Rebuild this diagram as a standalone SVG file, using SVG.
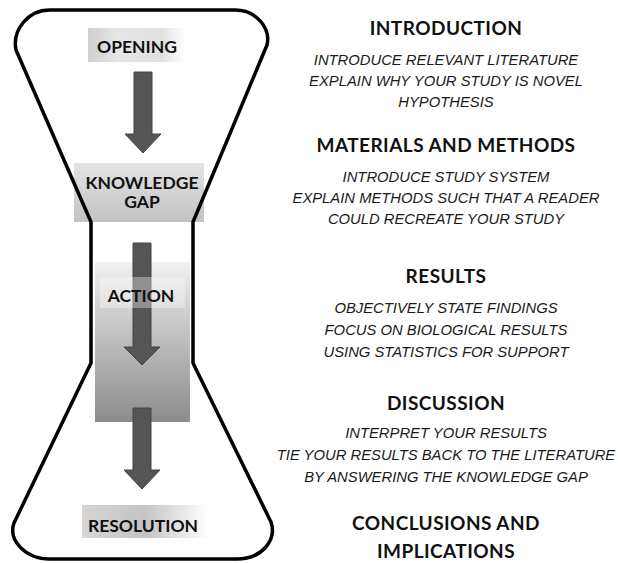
<svg xmlns="http://www.w3.org/2000/svg" width="618" height="563" viewBox="0 0 618 563">
<style>
.lbl{font-family:Lato,"Liberation Sans",sans-serif;font-weight:bold;font-size:17.5px;fill:#111;text-anchor:middle}
.hd{font-family:Lato,"Liberation Sans",sans-serif;font-weight:bold;font-size:19px;letter-spacing:0.45px;fill:#111;text-anchor:middle}
.it{font-family:"Liberation Sans",Arial,sans-serif;font-style:italic;font-size:14.8px;fill:#1a1a1a;text-anchor:middle}
.arrow{fill:#555;stroke:#444;stroke-width:1}
.flask{fill:none;stroke:#000;stroke-width:3.5;stroke-linejoin:round}
</style>
<defs>
<linearGradient id="gH" x1="0" y1="0" x2="1" y2="0">
<stop offset="0" stop-color="#cfcfcf"/>
<stop offset="0.3" stop-color="#e6e6e6"/>
<stop offset="0.75" stop-color="#e0e0e0"/>
<stop offset="1" stop-color="#ffffff"/>
</linearGradient>
<linearGradient id="gV" x1="0" y1="0" x2="0" y2="1">
<stop offset="0" stop-color="#e4e4e4"/>
<stop offset="1" stop-color="#c2c2c2"/>
</linearGradient>
<linearGradient id="gAct" x1="0" y1="0" x2="0" y2="1">
<stop offset="0" stop-color="#f2f2f2"/>
<stop offset="0.3" stop-color="#d0d0d0"/>
<stop offset="1" stop-color="#8c8c8c"/>
</linearGradient>
<linearGradient id="gRes" x1="0" y1="0" x2="1" y2="0">
<stop offset="0" stop-color="#d6d6d6"/>
<stop offset="0.5" stop-color="#c4c4c4"/>
<stop offset="1" stop-color="#ffffff"/>
</linearGradient>
</defs>
<rect width="618" height="563" fill="#fff"/>

<g id="opening">
<rect x="88" y="28" width="97" height="34" fill="url(#gH)"/>
<text class="lbl" x="137" y="53">OPENING</text>
</g>

<g id="knowledge-gap">
<rect x="74" y="163" width="130" height="59" fill="url(#gV)"/>
<text class="lbl" x="142" y="189">KNOWLEDGE</text>
<text class="lbl" x="142" y="208">GAP</text>
</g>

<g id="action">
<rect x="95" y="262" width="95" height="160" fill="url(#gAct)"/>
</g>

<g id="connectors">
<polygon class="arrow" points="134,72 152,72 152,134 161,134 143,153 125,134 134,134"/>
<polygon class="arrow" points="133,243 151,243 151,347 160,347 142,365 124,347 133,347"/>
<polygon class="arrow" points="133,408 151,408 151,470 160,470 142,489 124,470 133,470"/>
</g>

<g id="action-label">
<rect x="100" y="277" width="85" height="31" fill="#fff" fill-opacity="0.35"/>
<text class="lbl" x="141" y="302">ACTION</text>
</g>

<g id="resolution">
<rect x="82" y="505" width="126" height="33" fill="url(#gRes)"/>
<text class="lbl" x="143" y="532">RESOLUTION</text>
</g>

<path class="flask" d="M50,10 L235,10 C256,10 271,28 267,45 L193,222 L193,363 L271,522 C277,540 262,559 237,559 L50,559 C25,559 8,540 14,523 L91,363 L91,222 L16,50 C12,30 28,10 50,10 Z"/>

<g id="introduction">
<text class="hd" x="446" y="35">INTRODUCTION</text>
<text class="it" x="446" y="65">INTRODUCE RELEVANT LITERATURE</text>
<text class="it" x="446" y="86">EXPLAIN WHY YOUR STUDY IS NOVEL</text>
<text class="it" x="446" y="107">HYPOTHESIS</text>
</g>
<g id="materials-methods">
<text class="hd" x="446" y="152">MATERIALS AND METHODS</text>
<text class="it" x="446" y="182">INTRODUCE STUDY SYSTEM</text>
<text class="it" x="446" y="203">EXPLAIN METHODS SUCH THAT A READER</text>
<text class="it" x="446" y="224">COULD RECREATE YOUR STUDY</text>
</g>
<g id="results">
<text class="hd" x="446" y="283">RESULTS</text>
<text class="it" x="446" y="313">OBJECTIVELY STATE FINDINGS</text>
<text class="it" x="446" y="335">FOCUS ON BIOLOGICAL RESULTS</text>
<text class="it" x="446" y="357">USING STATISTICS FOR SUPPORT</text>
</g>
<g id="discussion">
<text class="hd" x="446" y="410">DISCUSSION</text>
<text class="it" x="446" y="438">INTERPRET YOUR RESULTS</text>
<text class="it" x="446" y="460">TIE YOUR RESULTS BACK TO THE LITERATURE</text>
<text class="it" x="446" y="482">BY ANSWERING THE KNOWLEDGE GAP</text>
</g>
<g id="conclusions">
<text class="hd" x="446" y="530">CONCLUSIONS AND</text>
<text class="hd" x="446" y="558">IMPLICATIONS</text>
</g>
</svg>
